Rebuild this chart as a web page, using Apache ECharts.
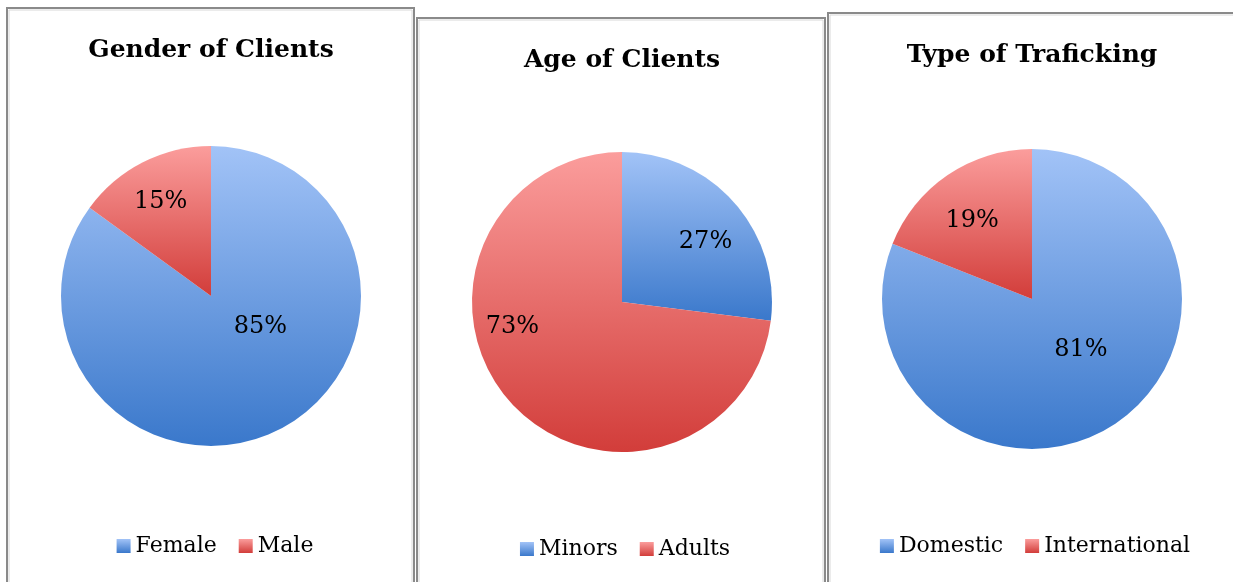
<!DOCTYPE html>
<html>
<head>
<meta charset="utf-8">
<script src="https://cdn.jsdelivr.net/npm/echarts@6/dist/echarts.min.js"></script>
<style>
  html, body { margin: 0; padding: 0; background: #fff; }
  #chart { width: 1233px; height: 582px; }
</style>
</head>
<body>
<div id="chart"></div>
<script>
// chart data
var titles = ['Gender of Clients', 'Age of Clients', 'Type of Traficking']
var genderNames = ['Female', 'Male']
var genderValues = [85, 15]
var ageNames = ['Minors', 'Adults']
var ageValues = [27, 73]
var typeNames = ['Domestic', 'International']
var typeValues = [81, 19]

var font = '"DejaVu Serif", "Liberation Serif", serif'
var legendFontSize = 22

function grad(light, dark) {
	return new echarts.graphic.LinearGradient(0, 0, 0, 1, [
		{ offset: 0, color: light },
		{ offset: 1, color: dark },
	])
}
var blue = grad('#a2c3f7', '#3a78cb')
var red = grad('#fb9d9c', '#d23d3a')

// panel layout: frame box, pie centre, title / legend top, legend centre
var panels = [
	{ x: 7, y: 8, w: 407, cx: 211, cy: 296, ty: 38, ly: 535, lx: 216 },
	{ x: 417, y: 18, w: 408, cx: 622, cy: 302, ty: 48, ly: 538, lx: 626 },
	{ x: 828, y: 13, w: 420, cx: 1032, cy: 299, ty: 43, ly: 535, lx: 1036 },
]
// nudge of the percent labels, to sit where the original (Excel best fit) put them
var labelShift = [
	[[14, -39], [-15, -25]],
	[[25, -9], [-51, -27]],
	[[5, -14], [-16, -14]],
]
var sets = [
	{ names: genderNames, values: genderValues },
	{ names: ageNames, values: ageValues },
	{ names: typeNames, values: typeValues },
]

// measure legend width so each legend can be centred on its panel
var ctx = document.createElement('canvas').getContext('2d')
ctx.font = legendFontSize + 'px ' + font
function legendWidth(names) {
	var w = 0
	names.forEach(function (n, k) {
		w += 14 + 6 + ctx.measureText(n).width + (k > 0 ? 22 : 0)
	})
	return w
}

var chart = echarts.init(document.getElementById('chart'))

var title = [], legend = [], series = [], graphic = []
panels.forEach(function (p, i) {
	graphic.push({
		type: 'rect',
		shape: { x: p.x, y: p.y, width: p.w, height: 700 },
		style: { fill: 'none', stroke: '#8a8a8a', lineWidth: 2 },
		z: 0,
	})
	graphic.push({
		type: 'rect',
		shape: { x: p.x + 2, y: p.y + 2, width: p.w - 4, height: 700 },
		style: { fill: 'none', stroke: '#d8d8d8', lineWidth: 1 },
		z: 0,
	})
	title.push({
		text: titles[i],
		left: p.cx,
		top: p.ty,
		padding: 0,
		textAlign: 'center',
		textStyle: { fontFamily: font, fontWeight: 'bold', fontSize: 25, color: '#000' },
	})
	legend.push({
		data: sets[i].names,
		left: p.lx - legendWidth(sets[i].names) / 2,
		top: p.ly,
		padding: 0,
		width: 600,
		itemWidth: 14,
		itemHeight: 14,
		itemGap: 22,
		itemTextGap: 6,
		icon: 'rect',
		textStyle: { fontFamily: font, fontSize: legendFontSize, color: '#000' },
	})
	series.push({
		type: 'pie',
		center: [p.cx, p.cy],
		radius: 150,
		startAngle: 90,
		clockwise: true,
		animation: false,
		legendHoverLink: false,
		label: {
			position: 'inside',
			formatter: '{c}%',
			fontFamily: font,
			fontSize: 24,
			color: '#000',
		},
		labelLine: { show: false },
		labelLayout: function (params) {
			var s = labelShift[params.seriesIndex][params.dataIndex]
			return { dx: s[0], dy: s[1] }
		},
		itemStyle: { borderWidth: 0 },
		data: sets[i].names.map(function (n, k) {
			return { name: n, value: sets[i].values[k], itemStyle: { color: k === 0 ? blue : red } }
		}),
	})
})

chart.setOption({
	backgroundColor: '#fff',
	animation: false,
	title: title,
	legend: legend,
	series: series,
	graphic: graphic,
})
</script>
</body>
</html>
